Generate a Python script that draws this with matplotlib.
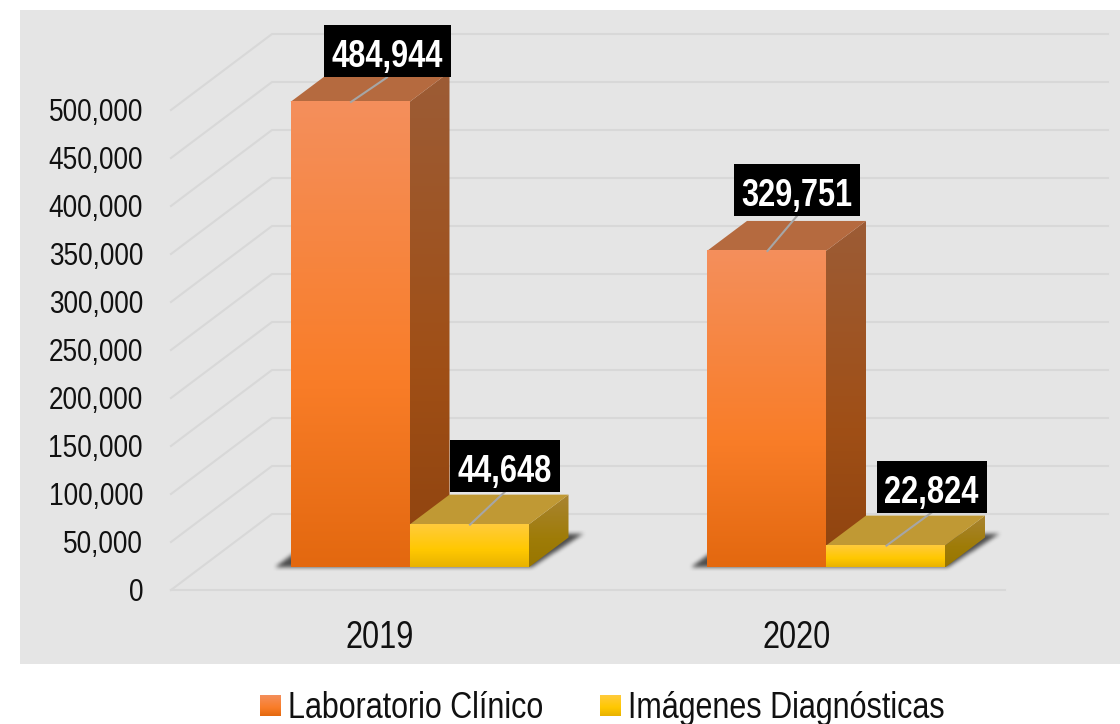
"""
3D style grouped column chart: Laboratorio Clínico vs Imágenes Diagnósticas.
"""

import numpy as np
import matplotlib
matplotlib.use("Agg")
import matplotlib.pyplot as plt
from fontTools.ttLib import TTFont
from matplotlib import font_manager
from matplotlib.colors import LinearSegmentedColormap
from matplotlib.patches import Polygon, Rectangle
from matplotlib.path import Path


YEARS = ["2019", "2020"]
LAB_VALUES = [484944, 329751]
IMG_VALUES = [44648, 22824]
SERIES_NAMES = ["Laboratorio Clínico", "Imágenes Diagnósticas"]
Y_TICKS = list(range(0, 500001, 50000))

WIDTH, HEIGHT = 1120, 724
CAT0_PX = 409.5       # junction of the two bars of the first group
CAT_STEP_PX = 416.5
BASE_PX = 567.5       # pixel row of value 0 on the front of the bars
PX_PER_UNIT = 0.00096
BAR_W = 119
DEPTH_X, DEPTH_Y = 40, 30

FONT = "Narrow Sans"
NARROW_FACTOR = 0.82
GRID_COLOR = "#D8D8D8"
PANEL_COLOR = "#E5E5E5"

ORANGE = {
    "front": ["#F48F5C", "#F97D28", "#E3680F"],
    "side": ["#9C5C36", "#A04F16", "#8E430F"],
    "top": "#B56A3F",
}
YELLOW = {
    "front": ["#FFCB3C", "#FFC800", "#E8B200"],
    "side": ["#A98433", "#9F7C08", "#987600"],
    "top": "#C09934",
}


def make_narrow_font(weight: str, path: str) -> None:
    """No narrow Arial here, so squeeze Liberation Sans into a new font file."""
    src = font_manager.findfont(font_manager.FontProperties(family="Liberation Sans", weight=weight))
    font = TTFont(src)
    glyf = font["glyf"]
    for name in glyf.keys():
        glyph = glyf[name]
        if glyph.isComposite():
            for comp in glyph.components:
                comp.x = int(comp.x * NARROW_FACTOR)
        elif glyph.numberOfContours > 0:
            glyph.coordinates.scale((NARROW_FACTOR, 1))
        adv, lsb = font["hmtx"].metrics[name]
        font["hmtx"].metrics[name] = (int(adv * NARROW_FACTOR), int(lsb * NARROW_FACTOR))
    if "kern" in font:
        del font["kern"]
    for rec in font["name"].names:
        if rec.nameID in (1, 16):
            rec.string = FONT
        elif rec.nameID in (4, 6):
            rec.string = f"{FONT} {weight}"
    font.save(path)
    font_manager.fontManager.addfont(path)


def pt(cat, value, dx=0.0, dy=0.0):
    """Data position of a category/value, shifted by dx, dy pixels (dy up)."""
    return cat + dx / CAT_STEP_PX, value + dy / PX_PER_UNIT


def gradient(ax, colors, box, clip=None, zorder=3):
    """Vertical gradient inside box (x0, x1, y0, y1), optionally clipped."""
    cmap = LinearSegmentedColormap.from_list("g", list(zip([0, 0.6, 1], colors)))
    img = ax.imshow(
        np.linspace(0, 1, 256).reshape(-1, 1),
        cmap=cmap,
        extent=box,
        origin="upper",
        aspect="auto",
        interpolation="bilinear",
        zorder=zorder,
    )
    if clip is not None:
        patch = Polygon(clip, closed=True, transform=ax.transData, fc="none", ec="none")
        ax.add_patch(patch)
        img.set_clip_path(patch)


def draw_grid(ax):
    for v in Y_TICKS:
        left = pt(0, v, 171 - CAT0_PX, -22.5)
        corner = pt(0, v, 272 - CAT0_PX, 53.5)
        end = pt(0, v, 1108 - CAT0_PX, 53.5)
        xs, ys = zip(left, corner, end)
        ax.plot(xs, ys, color=GRID_COLOR, lw=1.5, zorder=1)
        ax.text(
            *pt(0, v, 143 - CAT0_PX, -22), f"{v:,}",
            ha="right", va="center_baseline", fontsize=23, family=FONT, color="#111111",
        )
    # front edge of the floor
    x0, y0 = pt(0, 0, 171 - CAT0_PX, -22.5)
    x1, y1 = pt(0, 0, 1005 - CAT0_PX, -22.5)
    ax.plot([x0, x1], [y0, y1], color=GRID_COLOR, lw=1.5, zorder=1)


def draw_shadow(ax, cat):
    """Soft floor shadow: a parallelogram mask, box blurred, drawn as an image."""
    outline = [(-BAR_W - 17, -1), (BAR_W + 2, -1), (BAR_W + 54, 33), (-BAR_W + 28, 33)]
    xs = np.arange(-BAR_W - 40, BAR_W + 80)
    ys = np.arange(-20, 50)
    grid = np.column_stack([g.ravel() for g in np.meshgrid(xs, ys)])
    mask = Path(outline).contains_points(grid).reshape(len(ys), len(xs)).astype(float)
    kernel = np.ones(5) / 5
    for _ in range(2):
        mask = np.apply_along_axis(np.convolve, 0, mask, kernel, mode="same")
        mask = np.apply_along_axis(np.convolve, 1, mask, kernel, mode="same")
    rgba = np.zeros(mask.shape + (4,))
    rgba[..., :3] = 0.16
    rgba[..., 3] = mask * 0.8
    x0, y0 = pt(cat, 0, xs[0], ys[0])
    x1, y1 = pt(cat, 0, xs[-1], ys[-1])
    ax.imshow(rgba, extent=(x0, x1, y0, y1), origin="lower", aspect="auto",
              interpolation="bilinear", zorder=2)


def draw_bar(ax, cat, value, offset, style):
    """Front, top and side faces of one column, offset = left edge from group centre."""
    left, right = offset, offset + BAR_W
    x0, y0 = pt(cat, 0, left)
    x1, y1 = pt(cat, value, right)
    xd, yd = pt(cat, value, right + DEPTH_X, DEPTH_Y)
    xb, yb = pt(cat, 0, right + DEPTH_X, DEPTH_Y)

    side = [(x1, y0), (x1, y1), (xd, yd), (xb, yb)]
    gradient(ax, style["side"], (x1, xd, y0, yd), clip=side)

    top = [pt(cat, value, left), pt(cat, value, right), (xd, yd), pt(cat, value, left + DEPTH_X, DEPTH_Y)]
    ax.add_patch(Polygon(top, closed=True, fc=style["top"], ec="none", zorder=3))

    gradient(ax, style["front"], (x0, x1, y0, y1))


def draw_label(ax, cat, value, offset, box_dx, box_dy, box_w):
    """Black value box with a grey leader line from the top face."""
    center = offset + BAR_W / 2
    bx, by = pt(cat, value, center + box_dx - box_w / 2, box_dy)
    bx2, by2 = pt(cat, value, center + box_dx + box_w / 2, box_dy + 52)
    sx, sy = pt(cat, value, center + 1)
    ex, ey = pt(cat, value, center + box_dx, box_dy)
    ax.plot([sx, ex], [sy, ey], color="#A6A6A6", lw=1.5, zorder=4)
    ax.add_patch(Rectangle((bx, by), bx2 - bx, by2 - by, fc="black", ec="none", zorder=5))
    tx, ty = pt(cat, value, center + box_dx, box_dy + 24)
    ax.text(
        tx, ty, f"{value:,}", ha="center", va="center_baseline", color="white",
        fontsize=27, fontweight="bold", family=FONT, zorder=6,
    )


def draw_legend(ax):
    entries = [(260, SERIES_NAMES[0], ORANGE), (600, SERIES_NAMES[1], YELLOW)]
    for px, name, style in entries:
        x0, y0 = pt(0, 0, px - CAT0_PX, BASE_PX - 716)
        x1, y1 = pt(0, 0, px + 21 - CAT0_PX, BASE_PX - 696)
        gradient(ax, style["front"], (x0, x1, y0, y1))
        ax.text(
            *pt(0, 0, px + 28 - CAT0_PX, BASE_PX - 704), name,
            ha="left", va="center_baseline", fontsize=26.8, family=FONT, color="#111111",
        )


def main() -> None:
    make_narrow_font("normal", "narrow_regular.ttf")
    make_narrow_font("bold", "narrow_bold.ttf")

    fig = plt.figure(figsize=(WIDTH / 100, HEIGHT / 100), dpi=100, facecolor="white")
    ax = fig.add_axes([0, 0, 1, 1])
    ax.axis("off")

    # panel
    px0, py0 = pt(0, 0, 20 - CAT0_PX, BASE_PX - 664)
    px1, py1 = pt(0, 0, 1120 - CAT0_PX, BASE_PX - 10)
    ax.add_patch(Rectangle((px0, py0), px1 - px0, py1 - py0, fc=PANEL_COLOR, ec="none", zorder=0))

    draw_grid(ax)

    # label box offsets per bar: x shift from bar centre, y gap above the bar top, width
    lab_boxes = [(37, 24.5, 127), (30.5, 35, 126)]
    img_boxes = [(36, 33, 110), (46, 33, 110)]

    for i, year in enumerate(YEARS):
        draw_shadow(ax, i)
        draw_bar(ax, i, LAB_VALUES[i], -BAR_W, ORANGE)
        draw_bar(ax, i, IMG_VALUES[i], 0, YELLOW)
        draw_label(ax, i, LAB_VALUES[i], -BAR_W, *lab_boxes[i])
        draw_label(ax, i, IMG_VALUES[i], 0, *img_boxes[i])
        ax.text(
            *pt(i, 0, -29.5, BASE_PX - 634), year,
            ha="center", va="center_baseline", fontsize=27, family=FONT, color="#111111",
        )

    draw_legend(ax)

    ax.set_xlim(-CAT0_PX / CAT_STEP_PX, (WIDTH - CAT0_PX) / CAT_STEP_PX)
    ax.set_ylim((BASE_PX - HEIGHT) / PX_PER_UNIT, BASE_PX / PX_PER_UNIT)

    fig.savefig("out.png", dpi=100, facecolor="white")


if __name__ == "__main__":
    main()
